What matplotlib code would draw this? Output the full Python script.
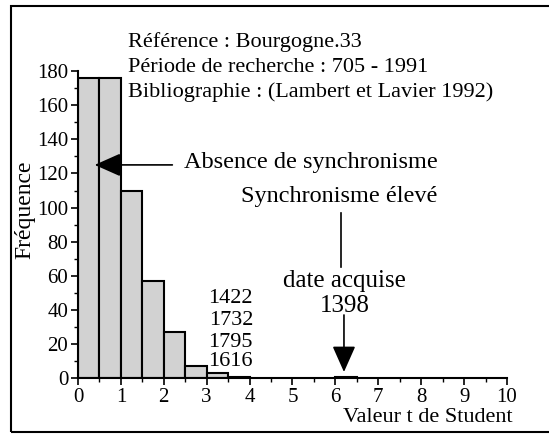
import matplotlib
matplotlib.use("Agg")
import matplotlib.pyplot as plt
from matplotlib.patches import Rectangle
from matplotlib.ticker import MultipleLocator

# histogram of Student t values (bins of 0.5)
bin_left = [0, 0.5, 1.0, 1.5, 2.0, 2.5, 3.0, 3.5, 6.0]
counts = [176, 176, 110, 57, 27, 7, 3, 1, 1]
info_lines = ["Référence : Bourgogne.33",
              "Période de recherche : 705 - 1991",
              "Bibliographie : (Lambert et Lavier 1992)"]
other_dates = ["1422", "1732", "1795", "1616"]
date_found = "1398"
t_found = 6.2

plt.rcParams['font.family'] = ['Liberation Serif', 'DejaVu Serif']

fig = plt.figure(figsize=(5.49, 4.34), dpi=100)
ax = fig.add_axes([0.142, 0.1283, 0.7815, 0.7081])

ax.bar(bin_left, counts, width=0.5, align='edge', color='#d2d2d2',
       edgecolor='black', linewidth=1.5, zorder=2)

ax.set_xlim(0, 10)
ax.set_ylim(0, 180)
ax.spines['top'].set_visible(False)
ax.spines['right'].set_visible(False)
ax.spines['left'].set_linewidth(1.5)
ax.spines['bottom'].set_linewidth(1.5)
ax.xaxis.set_major_locator(MultipleLocator(1))
ax.xaxis.set_minor_locator(MultipleLocator(0.5))
ax.yaxis.set_major_locator(MultipleLocator(20))
ax.yaxis.set_minor_locator(MultipleLocator(10))
ax.tick_params(which='major', direction='out', length=5, width=1.2,
               labelsize=15, pad=2)
ax.tick_params(which='minor', direction='out', length=3, width=1.0)

ax.text(-1.235, 98.5, "Fréquence", rotation=90, fontsize=17,
        ha='center', va='center', clip_on=False)
ax.text(10.12, -25.6, "Valeur t de Student", fontsize=16,
        ha='right', va='baseline', clip_on=False)

for line, y in zip(info_lines, [194.2, 179.5, 164.8]):
    ax.text(1.165, y, line, fontsize=16, ha='left', va='baseline', clip_on=False)

# low synchronism arrow
ax.text(2.47, 123.2, "Absence de synchronisme", fontsize=17.5,
        ha='left', va='baseline')
ax.annotate("", xy=(0.39, 125), xytext=(2.2, 125),
            arrowprops=dict(arrowstyle='-|>,head_length=0.9,head_width=0.4',
                            mutation_scale=18, color='black', lw=1.2,
                            shrinkA=0, shrinkB=0))

# high synchronism and the retained date
ax.text(6.1, 103.3, "Synchronisme élevé", fontsize=17.5, ha='center', va='baseline')
ax.plot([6.13, 6.13], [65.2, 97], color='black', lw=1.2)
ax.text(6.22, 53.5, "date acquise", fontsize=18, ha='center', va='baseline')
ax.text(6.22, 38.8, date_found, fontsize=18, ha='center', va='baseline')
ax.annotate("", xy=(t_found, 3.7), xytext=(t_found, 37.1),
            arrowprops=dict(arrowstyle='-|>,head_length=0.9,head_width=0.4',
                            mutation_scale=18, color='black', lw=1.2,
                            shrinkA=0, shrinkB=0))

for d, y in zip(other_dates, [44.1, 31.3, 18.3, 7.2]):
    ax.text(4.08, y, d, fontsize=16, ha='right', va='baseline')

# frame around the figure
fig.patches.append(Rectangle((0.02, 0.0046), 1.2, 0.9816, transform=fig.transFigure,
                             fill=False, edgecolor='black', linewidth=1.5))

fig.savefig("out.png", dpi=100)
